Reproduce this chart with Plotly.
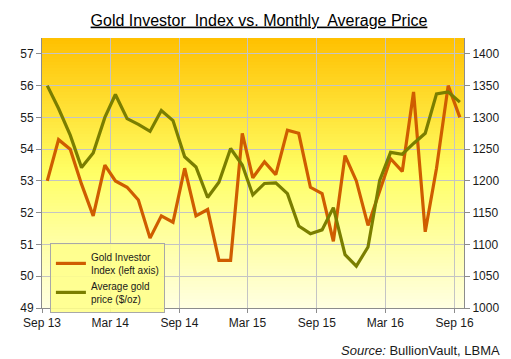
import plotly.graph_objects as go

# ---- data ----
months = [f"{y}-{m:02d}-15" for y, m in
          [(2013, m) for m in range(9, 13)] +
          [(2014, m) for m in range(1, 13)] +
          [(2015, m) for m in range(1, 13)] +
          [(2016, m) for m in range(1, 10)]]

investor_index = [53.0, 54.3, 54.0, 52.9, 51.9, 53.5, 53.0, 52.8, 52.4, 51.2,
                  51.9, 51.7, 53.4, 51.9, 52.1, 50.5, 50.5, 54.5, 53.1, 53.6,
                  53.2, 54.6, 54.5, 52.8, 52.6, 51.1, 53.8, 53.0, 51.6, 52.7,
                  53.7, 53.3, 55.8, 51.4, 53.4, 56.0, 55.0]

gold_price = [1350, 1314, 1272, 1221, 1244, 1300, 1336, 1298, 1289, 1278,
              1311, 1295, 1238, 1222, 1174, 1198, 1251, 1225, 1178, 1196,
              1197, 1180, 1129, 1117, 1123, 1158, 1084, 1066, 1096, 1201,
              1245, 1242, 1259, 1275, 1337, 1340, 1324]

tick_vals = ["2013-09-01", "2014-03-01", "2014-09-01", "2015-03-01",
             "2015-09-01", "2016-03-01", "2016-09-01"]
tick_text = ["Sep 13", "Mar 14", "Sep 14", "Mar 15", "Sep 15", "Mar 16", "Sep 16"]

series_names = ["Gold Investor<br>Index (left axis)", "Average gold<br>price ($/oz)"]

FONT = "Liberation Sans, Arial, sans-serif"
ORANGE = "#CF5D00"
OLIVE = "#7A7E00"
GRID = "#C4C4C4"
AXIS = "#8C8C8C"

# page body has an 8px default margin; the figure is sized so it fills the window
OFF = 8
W, H = 511 - OFF, 359 - OFF

fig = go.Figure()
fig.add_trace(go.Scatter(x=months, y=investor_index, mode="lines",
                         name=series_names[0],
                         line=dict(color=ORANGE, width=3.2)))
fig.add_trace(go.Scatter(x=months, y=gold_price, mode="lines",
                         name=series_names[1], yaxis="y2",
                         line=dict(color=OLIVE, width=3.2)))

# gradient background via horizontal strips
stops = [(0.0, (255, 192, 0)), (0.5, (255, 255, 102)), (1.0, (255, 255, 226))]
def col(t):
    for (t0, c0), (t1, c1) in zip(stops[:-1], stops[1:]):
        if t0 <= t <= t1:
            f = (t - t0) / (t1 - t0)
            return "rgb(%d,%d,%d)" % tuple(round(a + (b - a) * f) for a, b in zip(c0, c1))
    return "rgb(%d,%d,%d)" % stops[-1][1]

N = 90
shapes = []
for i in range(N):
    t = (i + 0.5) / N
    shapes.append(dict(type="rect", xref="paper", yref="paper",
                       x0=0, x1=1, y0=max(0, 1 - (i + 1) / N - 0.002), y1=1 - i / N,
                       fillcolor=col(t), line=dict(width=0), layer="below"))

PL, PT, PR, PB = 40, 37.5, 467, 308.3  # target plot area in window pixels
fig.update_layout(
    width=W, height=H,
    margin=dict(l=PL - OFF, r=511 - PR, t=PT - OFF, b=359 - PB),
    paper_bgcolor="white",
    plot_bgcolor="rgba(0,0,0,0)",
    font=dict(family=FONT, size=12, color="#1a1a1a"),
    shapes=shapes,
    title=dict(text="<u>Gold Investor  Index vs. Monthly  Average Price</u>",
               x=(259 - OFF) / W, xref="container", xanchor="center",
               y=1 - (20 - OFF) / H, yref="container", yanchor="middle",
               font=dict(family=FONT, size=16, color="black")),
    xaxis=dict(type="date", range=["2013-09-01", "2016-09-26"],
               tickvals=tick_vals, ticktext=tick_text,
               showgrid=True, gridcolor=GRID, gridwidth=1,
               showline=True, linecolor=AXIS, linewidth=1,
               ticks="outside", ticklen=4, tickcolor=AXIS,
               tickfont=dict(size=12), zeroline=False),
    yaxis=dict(range=[49, 57.5], dtick=1, tick0=49,
               showgrid=True, gridcolor=GRID, gridwidth=1,
               showline=True, linecolor=AXIS, linewidth=1,
               ticks="outside", ticklen=5, tickcolor=AXIS,
               tickfont=dict(size=12), zeroline=False),
    yaxis2=dict(range=[1000, 1425], dtick=50, tick0=1000,
                overlaying="y", side="right", showgrid=False,
                showline=True, linecolor=AXIS, linewidth=1,
                ticks="outside", ticklen=5, tickcolor=AXIS,
                tickfont=dict(size=12), zeroline=False),
    legend=dict(x=(48 - PL) / (PR - PL), y=(PB - 243) / (PB - PT),
                xanchor="left", yanchor="top",
                bgcolor="rgba(255,255,140,0.9)", bordercolor="#A8A8A8",
                borderwidth=1, font=dict(size=10, family=FONT, color="#1a1a1a"),
                itemwidth=30, tracegroupgap=0),
    showlegend=True,
    annotations=[dict(text="<i>Source:</i> BullionVault, LBMA",
                      xref="paper", yref="paper",
                      x=(505 - PL) / (PR - PL), y=-(351 - PB) / (PB - PT),
                      xanchor="right", yanchor="middle", showarrow=False,
                      font=dict(family=FONT, size=13, color="#1a1a1a"))],
)

fig.write_html("out.html")
